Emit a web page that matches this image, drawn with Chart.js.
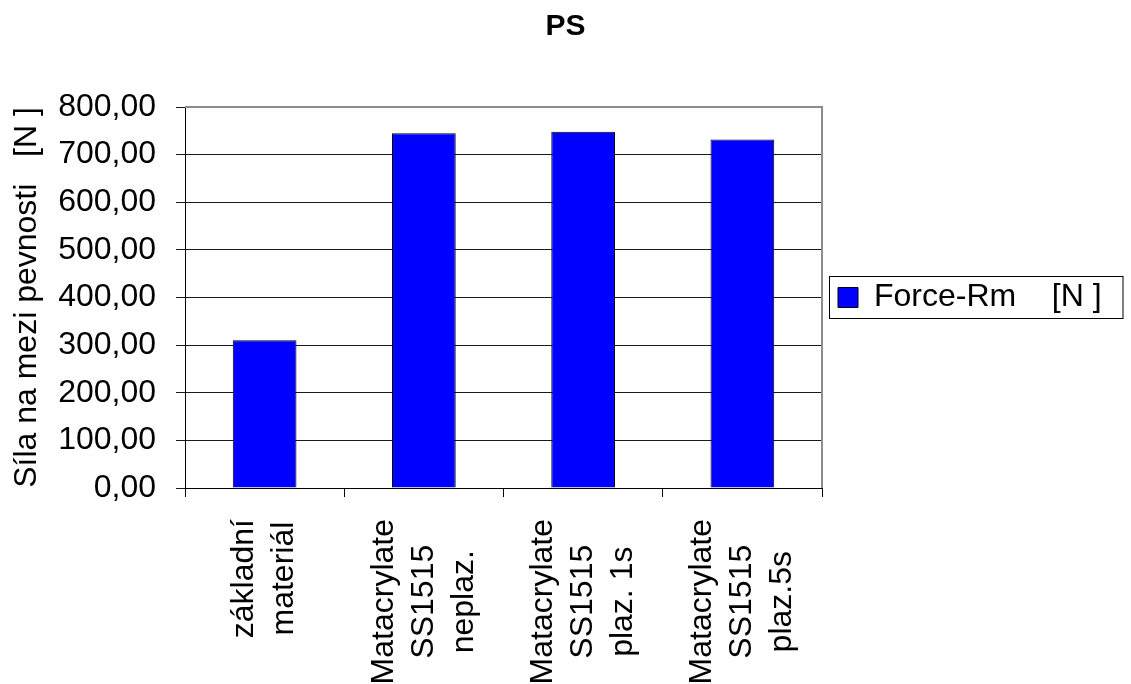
<!DOCTYPE html>
<html>
<head>
<meta charset="utf-8">
<title>PS</title>
<script src="https://cdn.jsdelivr.net/npm/chart.js@4.4.1/dist/chart.umd.min.js"></script>
<style>
  html, body { margin: 0; padding: 0; background: #ffffff; }
  canvas { display: block; }
</style>
</head>
<body>
<canvas id="psChart" width="1131" height="684"></canvas>
<script>
const chartTitle = "PS";
const categories = [
  ["základní", "materiál"],
  ["Matacrylate", "SS1515", "neplaz."],
  ["Matacrylate", "SS1515", "plaz. 1s"],
  ["Matacrylate", "SS1515", "plaz.5s"]
];
const forceRm = [310, 745, 748, 732];
const seriesLabel = "Force-Rm    [N ]";
const yTicks = [0, 100, 200, 300, 400, 500, 600, 700, 800];
const yTitle = "Síla na mezi pevnosti   [N ]";

const fontFamily = "'Liberation Sans', Arial, sans-serif";
Chart.defaults.font.family = fontFamily;
Chart.defaults.color = "#000000";

// legend column gets a fixed width so the plot ends at the same spot every time
const legendWidth = {
  id: "legendWidth",
  beforeInit(chart) {
    const fit = chart.legend.fit;
    chart.legend.fit = function () {
      fit.call(this);
      this.width = 309;
    };
  }
};

// thin box around the single legend entry
const legendFrame = {
  id: "legendFrame",
  afterDraw(chart) {
    const hit = chart.legend && chart.legend.legendHitBoxes[0];
    if (!hit) {
      return;
    }
    const ctx = chart.ctx;
    const cy = hit.top + hit.height / 2;
    const left = Math.round(hit.left - 9) + 0.5;
    const top = Math.round(cy - 22) + 0.5;
    ctx.save();
    ctx.strokeStyle = "#000000";
    ctx.lineWidth = 1;
    ctx.strokeRect(left, top, chart.width - 8 - left, 42);
    ctx.restore();
  }
};

// grey top and right edges of the plot area
const plotFrame = {
  id: "plotFrame",
  afterDatasetsDraw(chart) {
    const { ctx, chartArea: a } = chart;
    ctx.save();
    ctx.strokeStyle = "#8c8c8c";
    ctx.lineWidth = 2;
    ctx.beginPath();
    ctx.moveTo(a.left, a.top);
    ctx.lineTo(a.right, a.top);
    ctx.lineTo(a.right, a.bottom);
    ctx.stroke();
    ctx.restore();
  }
};

// vertical multi-line category names, lines centred on each other
const categoryLabels = {
  id: "categoryLabels",
  afterDraw(chart) {
    const ctx = chart.ctx;
    const xScale = chart.scales.x;
    const top = xScale.top + 31;
    const lineGap = 40;
    ctx.save();
    ctx.font = "32px " + fontFamily;
    ctx.fillStyle = "#000000";
    ctx.textAlign = "center";
    ctx.textBaseline = "middle";
    chart.data.labels.forEach((lines, i) => {
      const x = xScale.getPixelForValue(i);
      const longest = Math.max(...lines.map((l) => ctx.measureText(l).width));
      const cy = top + longest / 2;
      lines.forEach((line, j) => {
        const lx = x + (j - (lines.length - 1) / 2) * lineGap;
        ctx.save();
        ctx.translate(lx, cy);
        ctx.rotate(-Math.PI / 2);
        ctx.fillText(line, 0, 0);
        ctx.restore();
      });
    });
    ctx.restore();
  }
};

new Chart(document.getElementById("psChart"), {
  type: "bar",
  data: {
    labels: categories,
    datasets: [
      {
        label: seriesLabel,
        data: forceRm,
        backgroundColor: "#0000ff",
        borderColor: "#000000",
        borderWidth: 1,
        barPercentage: 0.4,
        categoryPercentage: 1.0
      }
    ]
  },
  options: {
    responsive: false,
    animation: false,
    layout: { padding: 0 },
    plugins: {
      title: {
        display: true,
        text: chartTitle,
        color: "#000000",
        font: { size: 30, weight: "bold" },
        padding: { top: 9, bottom: 62 }
      },
      legend: {
        position: "right",
        fullSize: false,
        labels: {
          boxWidth: 20,
          boxHeight: 20,
          padding: 16,
          color: "#000000",
          font: { size: 32 }
        }
      },
      tooltip: { enabled: true }
    },
    scales: {
      x: {
        afterFit(scale) {
          scale.height = 196;
        },
        ticks: { display: false },
        grid: {
          offset: true,
          drawOnChartArea: false,
          drawTicks: true,
          tickLength: 9,
          color: "#000000"
        },
        border: { display: true, color: "#000000", width: 1 }
      },
      y: {
        min: yTicks[0],
        max: yTicks[yTicks.length - 1],
        afterFit(scale) {
          scale.width = 185;
        },
        ticks: {
          stepSize: yTicks[1] - yTicks[0],
          autoSkip: false,
          padding: 20,
          color: "#000000",
          font: { size: 32 },
          callback: (v) => Number(v).toFixed(2).replace(".", ",")
        },
        grid: {
          color: "#1a1a1a",
          lineWidth: 1,
          drawTicks: true,
          tickLength: 9
        },
        border: { display: true, color: "#000000", width: 1 },
        title: {
          display: true,
          text: yTitle,
          color: "#000000",
          font: { size: 32 },
          padding: { top: 8, bottom: 0 }
        }
      }
    }
  },
  plugins: [legendWidth, legendFrame, plotFrame, categoryLabels]
});
</script>
</body>
</html>
